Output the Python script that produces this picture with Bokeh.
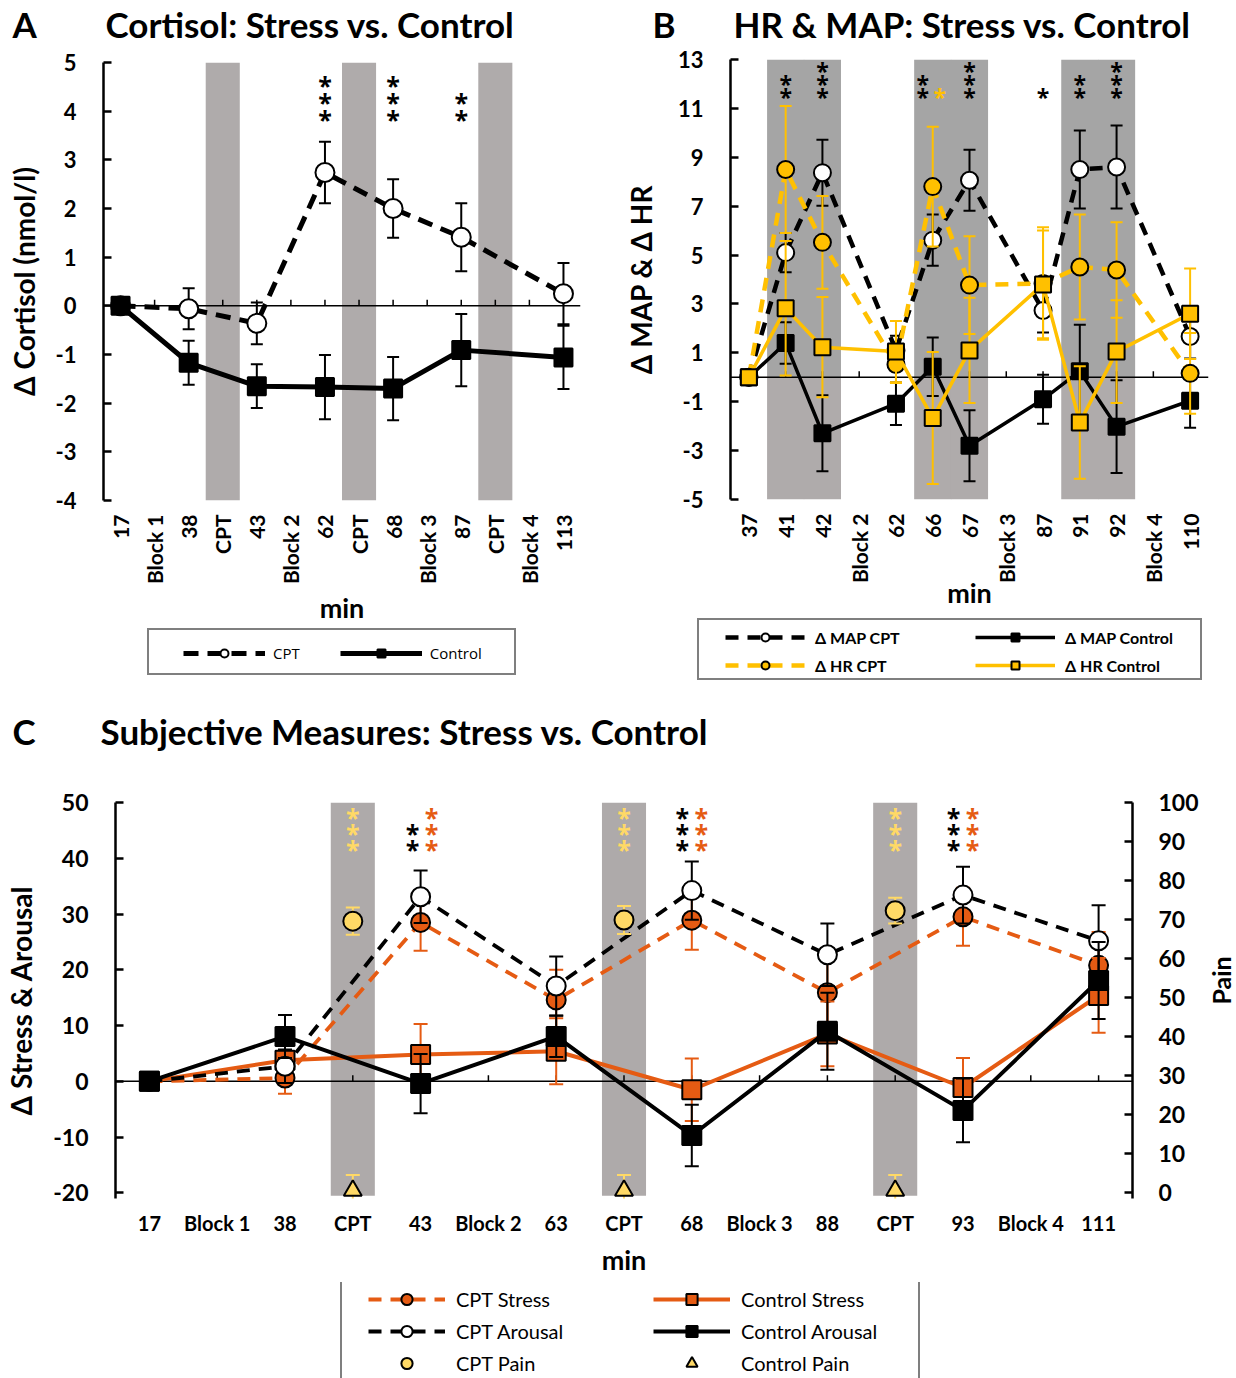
import math
from bokeh.plotting import figure
from bokeh.models import Range1d, FixedTicker, Span, Legend, LegendItem, LinearAxis
from bokeh.layouts import column, row
from bokeh.embed import file_html
from bokeh.resources import INLINE
from bokeh.core.properties import value

# ---------------- Panel A: cortisol ----------------
A_CATS = ["17", "Block 1", "38", "CPT", "43", "Block 2", "62", "CPT",
          "68", "Block 3", "87", "CPT", "Block 4", "113"]
A_TIMES = ["17", "38", "43", "62", "68", "87", "113"]
A_CPT = [0.0, -0.06, -0.36, 2.74, 2.00, 1.41, 0.25]
A_CPT_ERR = [0.0, 0.42, 0.43, 0.63, 0.60, 0.70, 0.63]
A_CTRL = [0.0, -1.17, -1.65, -1.67, -1.70, -0.91, -1.06]
A_CTRL_ERR = [0.0, 0.45, 0.45, 0.66, 0.65, 0.74, 0.65]
A_YTICKS = [-4, -3, -2, -1, 0, 1, 2, 3, 4, 5]
A_STARS = [("62", 3), ("68", 3), ("87", 2)]

# ---------------- Panel B: HR & MAP ----------------
B_CATS = ["37", "41", "42", "Block 2", "62", "66", "67", "Block 3",
          "87", "91", "92", "Block 4", "110"]
B_TIMES = ["37", "41", "42", "62", "66", "67", "87", "91", "92", "110"]
B_CPT_PERIODS = ["41", "42", "66", "67", "91", "92"]
MAP_CPT = [0.0, 5.10, 8.37, 1.10, 5.61, 8.06, 2.73, 8.50, 8.60, 1.67]
MAP_CPT_ERR = [0.0, 0.80, 1.35, 0.60, 1.05, 1.25, 0.90, 1.60, 1.70, 0.90]
MAP_CTRL = [0.0, 1.40, -2.29, -1.08, 0.43, -2.80, -0.90, 0.25, -2.02, -0.96]
MAP_CTRL_ERR = [0.0, 0.85, 1.55, 0.87, 1.20, 1.45, 1.00, 1.90, 1.90, 1.10]
HR_CPT = [0.0, 8.50, 5.52, 0.52, 7.80, 3.77, 3.84, 4.51, 4.39, 0.16]
HR_CPT_ERR = [0.0, 2.60, 1.90, 0.75, 2.45, 2.00, 2.30, 2.15, 1.95, 1.65]
HR_CTRL = [0.0, 2.82, 1.23, 1.05, -1.67, 1.10, 3.80, -1.85, 1.05, 2.60]
HR_CTRL_ERR = [0.0, 2.75, 2.05, 1.25, 2.70, 2.15, 2.20, 2.30, 2.10, 1.85]
B_YTICKS = [-5, -3, -1, 1, 3, 5, 7, 9, 11, 13]
B_STARS = [("41", 2, "map", 0.0), ("42", 3, "map", 0.0), ("66", 2, "map", -0.27),
           ("66", 1, "hr", 0.19), ("67", 3, "map", 0.0), ("87", 1, "map", 0.0),
           ("91", 2, "map", 0.0), ("92", 3, "map", 0.0)]

# ---------------- Panel C: subjective measures ----------------
C_CATS = ["17", "Block 1", "38", "CPT", "43", "Block 2", "63", "CPT", "68",
          "Block 3", "88", "CPT", "93", "Block 4", "111"]
C_TIMES = ["17", "38", "43", "63", "68", "88", "93", "111"]
CPT_STRESS = [0.0, 0.6, 28.5, 14.6, 28.9, 15.9, 29.5, 20.8]
CPT_STRESS_ERR = [0.0, 2.8, 5.1, 5.4, 5.3, 6.2, 5.2, 6.0]
CPT_AROUSAL = [0.0, 2.7, 33.1, 17.1, 34.2, 22.7, 33.4, 25.2]
CPT_AROUSAL_ERR = [0.0, 3.0, 4.7, 5.3, 5.2, 5.6, 5.1, 6.4]
CTRL_STRESS = [0.0, 3.8, 4.8, 5.4, -1.5, 8.5, -1.1, 15.4]
CTRL_STRESS_ERR = [0.0, 3.0, 5.5, 5.9, 5.6, 5.8, 5.3, 6.7]
CTRL_AROUSAL = [0.0, 8.05, -0.4, 8.05, -9.7, 9.0, -5.2, 18.1]
CTRL_AROUSAL_ERR = [0.0, 3.85, 5.3, 3.7, 5.5, 6.9, 5.7, 6.9]
CPT_PAIN = [69.6, 69.9, 72.3]
CPT_PAIN_ERR = [3.5, 3.6, 3.3]
CTRL_PAIN = [0.6, 0.6, 0.6]
CTRL_PAIN_ERR = [4.0, 4.0, 4.0]
C_YTICKS = [-20, -10, 0, 10, 20, 30, 40, 50]
PAIN_TICKS = [0, 10, 20, 30, 40, 50, 60, 70, 80, 90, 100]
C_STARS = [("CPT", 0, 3, "pain", 0.0), ("43", 0, 2, "arousal", -0.12), ("43", 0, 3, "stress", 0.16),
           ("CPT", 1, 3, "pain", 0.0), ("68", 0, 3, "arousal", -0.14), ("68", 0, 3, "stress", 0.14),
           ("CPT", 2, 3, "pain", 0.0), ("93", 0, 3, "arousal", -0.14), ("93", 0, 3, "stress", 0.14)]

# ---------------- style ----------------
FONT = "Lato"
ORANGE = "#E55B13"
GOLD = "#FFC000"
PAIN_Y = "#FFD966"
BAND_A = "#AFABAB"
BAND_B_UP = "#A5A5A5"
BAND_B_LOW = "#AFABAB"
BAND_C = "#AEAAAA"

S_A_CPT = dict(color="black", dash="15 9", lw=5, marker="circle", msize=19, fill="white", mline=2)
S_A_CTRL = dict(color="black", dash="solid", lw=5, marker="square", msize=18, fill="black", mline=2)
S_MAP_CPT = dict(color="black", dash="13 9", lw=4.5, marker="circle", msize=17, fill="white", mline=2)
S_MAP_CTRL = dict(color="black", dash="solid", lw=3.5, marker="square", msize=16, fill="black", mline=2)
S_HR_CPT = dict(color=GOLD, dash="13 9", lw=4.5, marker="circle", msize=17, fill=GOLD, mline=2)
S_HR_CTRL = dict(color=GOLD, dash="solid", lw=3.5, marker="square", msize=16, fill=GOLD, mline=2)
S_C_CPT_STRESS = dict(color=ORANGE, dash="13 9", lw=3.8, marker="circle", msize=19, fill=ORANGE, mline=2)
S_C_CTRL_STRESS = dict(color=ORANGE, dash="solid", lw=4, marker="square", msize=19, fill=ORANGE, mline=2)
S_C_CPT_AROUSAL = dict(color="black", dash="13 9", lw=3.8, marker="circle", msize=19, fill="white", mline=2)
S_C_CTRL_AROUSAL = dict(color="black", dash="solid", lw=4, marker="square", msize=19, fill="black", mline=2)
S_CPT_PAIN = dict(color=None, marker="circle", msize=19, fill=PAIN_Y, mline=2)
S_CTRL_PAIN = dict(color=None, marker="triangle", msize=18, fill=PAIN_Y, mline=2)


def no_align(f):
    try:
        f.frame_align = False
    except Exception:
        pass


def pos(cats, label, occ=0):
    idx = [i for i, c in enumerate(cats) if c == label]
    return idx[occ]


def blank_fig(W, H):
    f = figure(width=W, height=H, x_range=Range1d(0, W), y_range=Range1d(0, H),
               x_axis_type=None, y_axis_type=None, output_backend="svg",
               toolbar_location=None, min_border=0)
    f.outline_line_color = None
    no_align(f)
    return f


def make_panel(W, H, L, R, T, B, ncat, y0, y1):
    p = figure(width=W, height=H, x_range=Range1d(-0.5, ncat - 0.5), y_range=Range1d(y0, y1),
               output_backend="svg", toolbar_location=None,
               min_border_left=L, min_border_right=W - R, min_border_top=T, min_border_bottom=H - B)
    p.xgrid.visible = False
    p.ygrid.visible = False
    p.outline_line_color = None
    no_align(p)
    g = dict(W=W, H=H, L=L, R=R, T=T, B=B, y0=y0, y1=y1)
    return p, g


def dy_px(g, n):
    return n * (g["y1"] - g["y0"]) / (g["B"] - g["T"])


def header(W, H, letter, lx, title, tx, cy, size=35):
    f = blank_fig(W, H)
    f.text(x=[lx, tx], y=[H - cy, H - cy], text=[letter, title], text_font=value(FONT),
           text_font_size=value(f"{size}px"), text_font_style="bold", text_color="black",
           text_align="left", text_baseline="middle")
    return f


def style_x(p, cats, size, rotate, standoff, lab_standoff, lab_size):
    ax = p.xaxis[0]
    ax.ticker = FixedTicker(ticks=list(range(len(cats))))
    ax.major_label_overrides = {i: c for i, c in enumerate(cats)}
    ax.axis_line_color = None
    ax.major_tick_line_color = None
    ax.minor_tick_line_color = None
    ax.major_label_text_font = FONT
    ax.major_label_text_font_style = "bold"
    ax.major_label_text_font_size = f"{size}px"
    ax.major_label_text_color = "black"
    ax.major_label_standoff = standoff
    if rotate:
        ax.major_label_orientation = math.pi / 2
    ax.axis_label = "min"
    ax.axis_label_text_font = FONT
    ax.axis_label_text_font_style = "bold"
    ax.axis_label_text_font_size = f"{lab_size}px"
    ax.axis_label_text_color = "black"
    ax.axis_label_standoff = lab_standoff


def style_y(ax, ticks, size, label, lab_size, lab_standoff, standoff=27):
    ax.ticker = FixedTicker(ticks=ticks)
    ax.major_label_overrides = {t: str(t) for t in ticks}
    ax.axis_line_width = 2.5
    ax.axis_line_color = "black"
    ax.major_tick_line_width = 2.5
    ax.major_tick_line_color = "black"
    ax.major_tick_in = 8
    ax.major_tick_out = 0
    ax.minor_tick_line_color = None
    ax.major_label_text_font = FONT
    ax.major_label_text_font_style = "bold"
    ax.major_label_text_font_size = f"{size}px"
    ax.major_label_text_color = "black"
    ax.major_label_standoff = standoff
    if label:
        ax.axis_label = label
        ax.axis_label_text_font = FONT
        ax.axis_label_text_font_style = "bold"
        ax.axis_label_text_font_size = f"{lab_size}px"
        ax.axis_label_text_color = "black"
        ax.axis_label_standoff = lab_standoff


def zero_line(p, g, n):
    p.add_layout(Span(location=0, dimension="width", line_color="black", line_width=1.5,
                      level="underlay"))
    xs = list(range(n))
    p.segment(x0=xs, y0=[0] * n, x1=xs, y1=[dy_px(g, 6)] * n, line_color="black",
              line_width=1.5, level="underlay")


def errbars(p, xs, ys, es, color, cap=12, width=2, yr="default"):
    bx, lo, hi = [], [], []
    for x, y, e in zip(xs, ys, es):
        if e > 0:
            bx.append(x)
            lo.append(y - e)
            hi.append(y + e)
    p.segment(x0=bx, y0=lo, x1=bx, y1=hi, line_color=color, line_width=width, y_range_name=yr)
    p.scatter(x=bx + bx, y=lo + hi, marker="dash", size=cap, line_color=color, line_width=width,
              y_range_name=yr)


def series(p, xs, ys, s, yr="default"):
    rs = []
    if s.get("color"):
        if s["dash"] == "solid":
            rs.append(p.line(xs, ys, line_color=s["color"], line_width=s["lw"], line_join="round",
                             y_range_name=yr))
        else:
            rs.append(p.line(xs, ys, line_color=s["color"], line_width=s["lw"], line_dash=s["dash"],
                             line_join="round", y_range_name=yr))
    rs.append(p.scatter(xs, ys, marker=s["marker"], size=s["msize"], fill_color=s["fill"],
                        line_color="black", line_width=s["mline"], y_range_name=yr))
    return rs


def stars(p, xs, ys, colors, size=25, yoff=1):
    p.text(x=xs, y=ys, text=["*"] * len(xs), text_color=colors, text_font=value("Open Sans"),
           text_font_size=value(f"{size}px"), text_font_style="bold", text_align="center",
           text_baseline="middle", y_offset=yoff)


def legend_box(f, H, left, top, w, h):
    dummy = f.scatter(x=[-500], y=[-500], size=1, fill_alpha=0, line_alpha=0)
    lg = Legend(items=[LegendItem(label=" ", renderers=[dummy])],
                location=(left, H - top - h),
                padding=0, margin=0, spacing=0, glyph_width=1, glyph_height=h, label_height=h,
                label_width=w - 1, label_standoff=0, label_text_font_size="1px",
                border_line_color="black", border_line_width=2,
                background_fill_color="white", background_fill_alpha=1.0)
    f.add_layout(lg, "center")


def legend_items(f, H, entries, left, top, height, orientation, gw, gh, spacing, standoff,
                 font, size, style):
    items = []
    for label, s in entries:
        # sample points placed off the blank frame so only the legend key shows
        rs = series(f, [-500, -400], [-500, -500], s)
        items.append(LegendItem(label=label, renderers=rs))
    lg = Legend(items=items, location=(left, H - top - height),
                orientation=orientation, padding=0, margin=0, spacing=spacing,
                glyph_width=gw, glyph_height=gh, label_height=gh, label_standoff=standoff,
                label_text_font=font, label_text_font_size=f"{size}px",
                label_text_font_style=style, label_text_color="black",
                border_line_alpha=0, background_fill_alpha=0)
    f.add_layout(lg, "center")


# ======================= Panel A =======================
def build_A():
    hd = header(620, 48, "A", 12, "Cortisol: Stress vs. Control", 105, 23)
    p, g = make_panel(620, 580, 103, 580, 14, 452, len(A_CATS), -4, 5)
    n = len(A_CATS)
    cpt_idx = [i for i, c in enumerate(A_CATS) if c == "CPT"]
    p.vbar(x=cpt_idx, width=1.0, bottom=g["y0"], top=g["y1"], fill_color=BAND_A,
           line_color=None, level="image")
    zero_line(p, g, n)
    xs = [A_CATS.index(t) for t in A_TIMES]
    errbars(p, xs, A_CPT, A_CPT_ERR, "black", 12, 2)
    series(p, xs, A_CPT, S_A_CPT)
    errbars(p, xs, A_CTRL, A_CTRL_ERR, "black", 12, 2)
    series(p, xs, A_CTRL, S_A_CTRL)
    sx, sy, sc = [], [], []
    for lab, k in A_STARS:
        for j in range(k):
            sx.append(A_CATS.index(lab))
            sy.append(3.86 + 0.35 * j)
            sc.append("black")
    stars(p, sx, sy, sc)
    style_x(p, A_CATS, 21, True, 8, 4, 27)
    style_y(p.yaxis[0], A_YTICKS, 22, "\u0394 Cortisol (nmol/l)", 28, 12)
    lg = blank_fig(620, 62)
    legend_box(lg, 62, 147, 4, 365, 43)
    legend_items(lg, 62, [("CPT", S_A_CPT), ("Control", S_A_CTRL)],
                 183, 15, 20, "horizontal", 82, 20, 40, 8, "Open Sans", 15, "normal")
    return column(hd, p, lg, spacing=0)


# ======================= Panel B =======================
def build_B():
    hd = header(616, 46, "B", 32, "HR & MAP: Stress vs. Control", 113, 23)
    p, g = make_panel(616, 566, 110, 588, 13, 453, len(B_CATS), -5, 13)
    n = len(B_CATS)
    bidx = [B_CATS.index(c) for c in B_CPT_PERIODS]
    p.vbar(x=bidx, width=1.01, bottom=0, top=g["y1"], fill_color=BAND_B_UP, line_color=None,
           level="image")
    p.vbar(x=bidx, width=1.01, bottom=g["y0"], top=0, fill_color=BAND_B_LOW, line_color=None,
           level="image")
    zero_line(p, g, n)
    xs = [B_CATS.index(t) for t in B_TIMES]
    errbars(p, xs, MAP_CPT, MAP_CPT_ERR, "black", 12, 2)
    series(p, xs, MAP_CPT, S_MAP_CPT)
    errbars(p, xs, MAP_CTRL, MAP_CTRL_ERR, "black", 12, 2)
    series(p, xs, MAP_CTRL, S_MAP_CTRL)
    errbars(p, xs, HR_CPT, HR_CPT_ERR, GOLD, 12, 2)
    series(p, xs, HR_CPT, S_HR_CPT)
    errbars(p, xs, HR_CTRL, HR_CTRL_ERR, GOLD, 12, 2)
    series(p, xs, HR_CTRL, S_HR_CTRL)
    cmap = {"map": "black", "hr": GOLD}
    sx, sy, sc = [], [], []
    for lab, k, kind, dx in B_STARS:
        for j in range(k):
            sx.append(B_CATS.index(lab) + dx)
            sy.append(11.5 + 0.53 * j)
            sc.append(cmap[kind])
    stars(p, sx, sy, sc, 23)
    style_x(p, B_CATS, 21, True, 8, -10, 27)
    style_y(p.yaxis[0], B_YTICKS, 22, "\u0394 MAP & \u0394 HR", 28, 17)
    lg = blank_fig(616, 78)
    legend_box(lg, 78, 77, 10, 501, 58)
    legend_items(lg, 78, [("\u0394 MAP CPT", S_MAP_CPT), ("\u0394 HR CPT", S_HR_CPT)],
                 105, 15, 48, "vertical", 80, 20, 8, 10, FONT, 16, "bold")
    legend_items(lg, 78, [("\u0394 MAP Control", S_MAP_CTRL), ("\u0394 HR Control", S_HR_CTRL)],
                 355, 15, 48, "vertical", 80, 20, 8, 10, FONT, 16, "bold")
    return column(hd, p, lg, spacing=0)


# ======================= Panel C =======================
def build_C():
    hd = header(1236, 80, "C", 12, "Subjective Measures: Stress vs. Control", 100, 40)
    y0 = C_YTICKS[0] - 1
    y1 = C_YTICKS[-1]
    p, g = make_panel(1204, 512, 115, 1132, 32, 428, len(C_CATS), y0, y1)
    n = len(C_CATS)
    # pain axis: 0..100 spans the same frame height as -20..50
    k = (C_YTICKS[-1] - C_YTICKS[0]) / (PAIN_TICKS[-1] - PAIN_TICKS[0])
    p.extra_y_ranges = {"pain": Range1d((y0 - C_YTICKS[0]) / k, PAIN_TICKS[-1])}
    cpt_idx = [i for i, c in enumerate(C_CATS) if c == "CPT"]
    p.vbar(x=cpt_idx, width=0.65, bottom=C_YTICKS[0] - 0.5, top=y1, fill_color=BAND_C,
           line_color=None, level="image")
    zero_line(p, g, n)
    xs = [C_CATS.index(t) for t in C_TIMES]
    errbars(p, xs, CPT_STRESS, CPT_STRESS_ERR, ORANGE, 14, 2)
    series(p, xs, CPT_STRESS, S_C_CPT_STRESS)
    errbars(p, xs, CTRL_STRESS, CTRL_STRESS_ERR, ORANGE, 14, 2)
    series(p, xs, CTRL_STRESS, S_C_CTRL_STRESS)
    errbars(p, xs, CPT_AROUSAL, CPT_AROUSAL_ERR, "black", 14, 2)
    series(p, xs, CPT_AROUSAL, S_C_CPT_AROUSAL)
    errbars(p, xs, CTRL_AROUSAL, CTRL_AROUSAL_ERR, "black", 14, 2)
    series(p, xs, CTRL_AROUSAL, S_C_CTRL_AROUSAL)
    errbars(p, cpt_idx, CPT_PAIN, CPT_PAIN_ERR, PAIN_Y, 14, 2, "pain")
    series(p, cpt_idx, CPT_PAIN, S_CPT_PAIN, "pain")
    errbars(p, cpt_idx, CTRL_PAIN, CTRL_PAIN_ERR, PAIN_Y, 14, 2, "pain")
    series(p, cpt_idx, CTRL_PAIN, S_CTRL_PAIN, "pain")
    cmap = {"arousal": "black", "stress": ORANGE, "pain": PAIN_Y}
    sx, sy, sc = [], [], []
    for lab, occ, kk, kind, dx in C_STARS:
        for j in range(kk):
            sx.append(pos(C_CATS, lab, occ) + dx)
            sy.append(41.8 + 2.9 * j)
            sc.append(cmap[kind])
    stars(p, sx, sy, sc)
    style_x(p, C_CATS, 20, False, 6, 5, 27)
    style_y(p.yaxis[0], C_YTICKS, 23, "\u0394 Stress & Arousal", 28, 12)
    right = LinearAxis(y_range_name="pain")
    p.add_layout(right, "right")
    style_y(right, PAIN_TICKS, 23, None, 0, 0, standoff=26)
    # title of the secondary (pain) axis, in a narrow strip to the right of the plot
    pf = blank_fig(32, 512)
    pf.text(x=[16], y=[302], text=["Pain"], angle=math.pi / 2, text_font=value(FONT),
            text_font_size=value("25px"), text_font_style="bold", text_color="black",
            text_align="center", text_baseline="middle")
    lg = blank_fig(1236, 96)
    legend_box(lg, 96, 340, 2, 576, 100)
    legend_items(lg, 96, [("CPT Stress", S_C_CPT_STRESS), ("CPT Arousal", S_C_CPT_AROUSAL),
                          ("CPT Pain", S_CPT_PAIN)],
                 368, 3, 92, "vertical", 77, 28, 4, 11, FONT, 20, "normal")
    legend_items(lg, 96, [("Control Stress", S_C_CTRL_STRESS), ("Control Arousal", S_C_CTRL_AROUSAL),
                          ("Control Pain", S_CTRL_PAIN)],
                 653, 3, 92, "vertical", 77, 28, 4, 11, FONT, 20, "normal")
    return column(hd, row(p, pf, spacing=0), lg, spacing=0)


colA = build_A()
colB = build_B()
colC = build_C()
layout = column(row(colA, colB, spacing=0), colC, spacing=0)
open("out.html", "w").write(file_html(layout, INLINE, "Stress vs. Control"))
